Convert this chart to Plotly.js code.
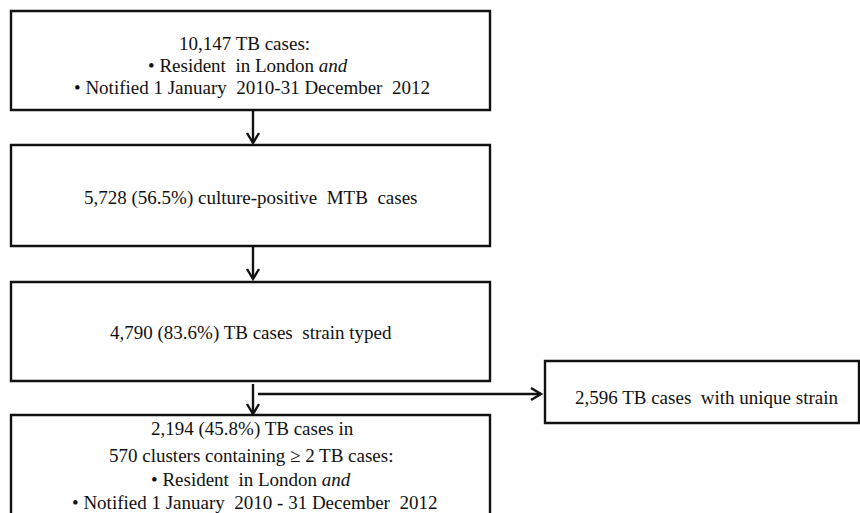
<!DOCTYPE html>
<html>
<head>
<meta charset="utf-8">
<script src="https://cdn.plot.ly/plotly-3.0.1.min.js"></script>
<style>html,body{margin:0;padding:0;background:#fff;}#chart{width:860px;height:513px;}</style>
</head>
<body>
<div id="chart"></div>
<script>
// Flowchart content
const boxLabels = [
  ["10,147 TB cases:", "• Resident  in London <i>and</i>", "• Notified 1 January  2010-31 December  2012"],
  ["5,728 (56.5%) culture-positive  MTB  cases"],
  ["4,790 (83.6%) TB cases  strain typed"],
  ["2,194 (45.8%) TB cases in", "570 clusters containing ≥ 2 TB cases:", "• Resident  in London <i>and</i>", "• Notified 1 January  2010 - 31 December  2012"],
  ["2,596 TB cases  with unique strain"]
];

// Layout geometry (pixels in a 860x513 frame)
const boxes = [
  {x0: 11, x1: 490, y0: 11, y1: 110},
  {x0: 11, x1: 490, y0: 145, y1: 246},
  {x0: 11, x1: 490, y0: 282, y1: 381},
  {x0: 11, x1: 490, y0: 415, y1: 530},
  {x0: 545, x1: 859, y0: 361, y1: 423}
];
const lineY = [
  [43, 65, 87],
  [198],
  [333],
  [429, 455, 479, 502],
  [397]
];
const lineX = [
  [244, 248, 252],
  [250],
  [251],
  [252, 251, 251, 254],
  [706]
];
const arrows = [
  {x0: 253, y0: 110, x1: 253, y1: 143},
  {x0: 253, y0: 246, x1: 253, y1: 279},
  {x0: 253, y0: 384, x1: 253, y1: 414},
  {x0: 258, y0: 394, x1: 541, y1: 394}
];

const shapes = [];
const ink = '#111';
boxes.forEach(b => shapes.push({type: 'rect', xref: 'x', yref: 'y', x0: b.x0, x1: b.x1, y0: b.y0, y1: b.y1,
  line: {color: ink, width: 2.4}, fillcolor: 'rgba(0,0,0,0)'}));
arrows.forEach(a => {
  shapes.push({type: 'line', xref: 'x', yref: 'y', x0: a.x0, y0: a.y0, x1: a.x1, y1: a.y1, line: {color: ink, width: 2.4}});
  let p;
  if (a.x0 === a.x1) {
    p = `M ${a.x1 - 6} ${a.y1 - 10} L ${a.x1} ${a.y1} L ${a.x1 + 6} ${a.y1 - 10}`;
  } else {
    p = `M ${a.x1 - 10} ${a.y1 - 6} L ${a.x1} ${a.y1} L ${a.x1 - 10} ${a.y1 + 6}`;
  }
  shapes.push({type: 'path', xref: 'x', yref: 'y', path: p, line: {color: ink, width: 2.4}});
});

const annotations = [];
boxLabels.forEach((lines, i) => {
  lines.forEach((t, j) => {
    annotations.push({xref: 'x', yref: 'y', x: lineX[i][j], y: lineY[i][j], text: t, showarrow: false,
      xanchor: 'center', yanchor: 'middle',
      font: {family: "'Liberation Serif'", size: 19, color: '#111'}});
  });
});

const layout = {
  width: 860, height: 513,
  margin: {l: 0, r: 0, t: 0, b: 0},
  paper_bgcolor: '#fff', plot_bgcolor: '#fff',
  font: {family: "'Liberation Serif'"},
  xaxis: {range: [0, 860], visible: false, fixedrange: true},
  yaxis: {range: [513, 0], visible: false, fixedrange: true},
  shapes: shapes,
  annotations: annotations,
  showlegend: false
};

Plotly.newPlot('chart', [], layout, {staticPlot: true, displayModeBar: false});
</script>
</body>
</html>
